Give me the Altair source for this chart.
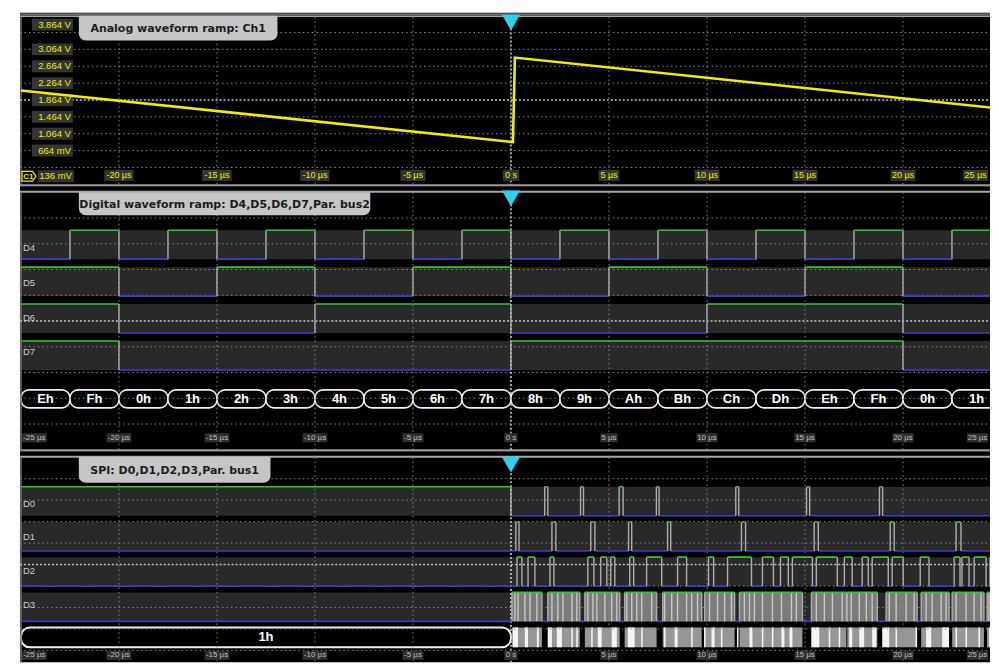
import altair as alt
import pandas as pd

# ======================= DATA =======================
# shared time axis (µs)
tick_t = [-20, -15, -10, -5, 0, 5, 10, 15, 20]
tick_lbl = ["-20 µs", "-15 µs", "-10 µs", "-5 µs", "0 s", "5 µs", "10 µs", "15 µs", "20 µs"]
first_lbl = "-25 µs"
last_lbl = "25 µs"
trigger_t = [0]

# panel 1 - analog ramp (Ch1)
ana_t = [-25.0, 0.1, 0.2, 25.0]
ana_v = [2.09, 0.865, 2.87, 1.66]
volt_grid = [3.464, 3.064, 2.664, 2.264, 1.464, 1.064, 0.664, 0.264]
volt_center = [1.864]
volt_lbl_v = [3.064, 2.664, 2.264, 1.864, 1.464, 1.064, 0.664]
volt_lbl = ["3.064 V", "2.664 V", "2.264 V", "1.864 V", "1.464 V", "1.064 V", "664 mV"]
volt_top_v, volt_top_lbl = [3.864], ["3.864 V"]
volt_bot_v, volt_bot_lbl = [-0.136], ["136 mV"]

# panel 2 - parallel bus 2 (D4..D7), one word per 2.5 µs
slot_t0 = [-25, -22.5, -20, -17.5, -15, -12.5, -10, -7.5, -5, -2.5,
           0, 2.5, 5, 7.5, 10, 12.5, 15, 17.5, 20, 22.5]
slot_t1 = [-22.5, -20, -17.5, -15, -12.5, -10, -7.5, -5, -2.5, 0,
           2.5, 5, 7.5, 10, 12.5, 15, 17.5, 20, 22.5, 25]
bus2_word = ["Eh", "Fh", "0h", "1h", "2h", "3h", "4h", "5h", "6h", "7h",
             "8h", "9h", "Ah", "Bh", "Ch", "Dh", "Eh", "Fh", "0h", "1h"]
d4_lvl = [0, 1, 0, 1, 0, 1, 0, 1, 0, 1, 0, 1, 0, 1, 0, 1, 0, 1, 0, 1]
d5_lvl = [1, 1, 0, 0, 1, 1, 0, 0, 1, 1, 0, 0, 1, 1, 0, 0, 1, 1, 0, 0]
d6_lvl = [1, 1, 0, 0, 0, 0, 1, 1, 1, 1, 0, 0, 0, 0, 1, 1, 1, 1, 0, 0]
d7_lvl = [1, 1, 0, 0, 0, 0, 0, 0, 0, 0, 1, 1, 1, 1, 1, 1, 1, 1, 0, 0]

# panel 3 - SPI on D0..D3 (high intervals, µs)
d0_hi_t0 = [-25.0, 1.72, 3.55, 5.52, 7.42, 11.47, 15.08, 18.80]
d0_hi_t1 = [0.0, 1.88, 3.70, 5.72, 7.56, 11.62, 15.24, 18.96]
d1_hi_t0 = [0.25, 2.09, 4.07, 6.00, 7.99, 11.76, 15.47, 19.35, 22.71]
d1_hi_t1 = [0.41, 2.29, 4.28, 6.16, 8.15, 11.97, 15.68, 19.55, 22.96]
d2_hi_t0 = [0.31, 0.87, 1.99, 3.92, 4.58, 5.09, 6.06, 6.92, 8.50, 10.08, 11.05, 12.83,
            13.75, 14.36, 15.58, 17.01, 17.92, 18.43, 19.45, 20.88, 22.61, 23.01, 23.63, 24.44]
d2_hi_t1 = [0.56, 1.22, 2.19, 4.23, 4.89, 5.30, 6.26, 7.69, 8.96, 10.34, 12.27, 13.39,
            14.15, 15.38, 16.65, 17.41, 18.23, 19.25, 20.01, 21.33, 22.91, 23.37, 24.24, 24.64]
d3_blk_t0 = [0.05, 1.88, 3.77, 5.80, 7.74, 9.88, 11.66, 15.33, 17.16, 19.14, 20.93, 22.51, 24.29]
d3_blk_t1 = [1.58, 3.51, 5.55, 7.43, 9.73, 11.41, 14.87, 17.11, 18.69, 20.72, 22.35, 24.13, 24.80]
d3_toggle_t = [0.20, 0.36, 0.71, 0.97, 1.32, 2.09, 2.39, 2.65, 3.11, 3.36, 3.92, 4.18, 4.38, 4.79,
               5.14, 5.40, 5.91, 6.16, 6.42, 6.67, 7.18, 7.84, 8.20, 8.50, 8.96, 9.22, 9.52, 10.13,
               10.54, 10.90, 11.25, 11.91, 12.17, 12.42, 12.83, 13.34, 13.80, 14.31, 14.56, 15.58,
               15.99, 16.40, 16.90, 17.36, 17.77, 18.13, 18.43, 19.30, 19.65, 20.16, 20.57, 21.18,
               21.49, 21.95, 22.20, 22.71, 23.22, 23.63, 23.98, 24.39, 24.75]
bus1_first_word = "1h"
bus1_first_t0, bus1_first_t1 = -25.0, 0.0
bus1_hi_t0 = [0.10, 0.71, 1.32, 1.88, 2.34, 3.08, 3.33, 4.09, 4.43, 5.14, 5.96, 6.64, 7.81, 8.35,
              9.19, 9.85, 10.23, 10.71, 11.53, 12.17, 12.80, 13.31, 13.80, 14.21, 15.33, 16.21,
              16.72, 17.26, 17.77, 18.43, 18.94, 19.62, 20.64, 21.18, 22.00, 22.68, 23.19, 23.85, 24.39]
bus1_hi_t1 = [0.36, 0.87, 1.42, 2.09, 2.60, 3.16, 3.41, 4.17, 4.63, 5.40, 6.31, 6.72, 7.89, 8.50,
              9.27, 9.93, 10.39, 10.79, 11.61, 12.32, 12.88, 13.39, 13.95, 14.36, 15.73, 16.29,
              16.80, 17.41, 18.02, 18.64, 19.30, 19.70, 20.72, 21.44, 22.35, 22.76, 23.27, 23.93, 24.75]

# ======================= STYLE / LAYOUT =======================
W = 972
H1, H2, H3 = 174, 266, 211
XS = alt.Scale(domain=[-25.05, 24.44], nice=False, zero=False)
VS = alt.Scale(domain=[-0.183, 3.935], nice=False, zero=False)
S2 = alt.Scale(domain=["D4", "D5", "D6", "D7"], range=[44, 184], paddingInner=0.216, paddingOuter=0)
S3 = alt.Scale(domain=["D0", "D1", "D2", "D3"], range=[35, 170], paddingInner=0.176, paddingOuter=0)
DS2 = alt.Scale(domain=[0, 10], range=[6, 264], nice=False, zero=False)
DS3 = alt.Scale(domain=[0, 10], range=[5.5, 220.5], nice=False, zero=False)

GREEN = "#36c236"
BLUE = "#3c3cd2"
EDGE = "#adadad"
BAND = "#292929"
GRID = "#8a8a8a"
YEL = "#f2ee00"
CYAN = "#29d3f0"
TAB = "#c6c6c6"
FONT = "Liberation Sans"
one = pd.DataFrame({"k": [0]})


def X(f):
    return alt.X(f, type="quantitative", scale=XS, axis=None)


def hrule(y, color, w, dash=None):
    kw = dict(color=color, strokeWidth=w)
    if dash:
        kw["strokeDash"] = dash
    return alt.Chart(one).mark_rule(**kw).encode(x=alt.value(0), x2=alt.value(W), y=alt.value(y))


def vgrid(top, bottom):
    df = pd.DataFrame({"t": [t for t in tick_t if t != 0]})
    g = alt.Chart(df).mark_rule(color=GRID, strokeWidth=1, strokeDash=[1.5, 3]).encode(
        x=X("t:Q"), y=alt.value(top), y2=alt.value(bottom))
    z = alt.Chart(pd.DataFrame({"t": trigger_t})).mark_rule(
        color="#d6d6d6", strokeWidth=1.5, strokeDash=[2, 2]).encode(
        x=X("t:Q"), y=alt.value(top), y2=alt.value(bottom))
    left = alt.Chart(one).mark_rule(color="#767676", strokeWidth=1.5).encode(
        x=alt.value(1), y=alt.value(top), y2=alt.value(bottom))
    return [g, z, left]


def hgrid(scale):
    df = pd.DataFrame({"d": [1, 2, 3, 4, 6, 7, 8, 9]})
    g = alt.Chart(df).mark_rule(color=GRID, strokeWidth=1, strokeDash=[1.5, 3], clip=True).encode(
        y=alt.Y("d:Q", scale=scale, axis=None), x=alt.value(0), x2=alt.value(W))
    c = alt.Chart(pd.DataFrame({"d": [5]})).mark_rule(
        color="#c4c4c4", strokeWidth=1.5, strokeDash=[2, 2]).encode(
        y=alt.Y("d:Q", scale=scale, axis=None), x=alt.value(0), x2=alt.value(W))
    return [g, c]


def box_path(bw, bh):
    h = bh / bw
    return f"M-1,{-h:.4f}L1,{-h:.4f}L1,{h:.4f}L-1,{h:.4f}Z"


def time_labels(y, fs, txt_color, box_color, bh, cw, pad, with_first):
    df = pd.DataFrame({"t": tick_t, "lbl": tick_lbl})
    df["bw"] = df["lbl"].str.len() * cw + pad
    df["sz"] = df["bw"] ** 2
    df["shp"] = [box_path(b, bh) for b in df["bw"]]
    box = alt.Chart(df).mark_point(filled=True, opacity=1, color=box_color, strokeWidth=0).encode(
        x=X("t:Q"), y=alt.value(y),
        size=alt.Size("sz:Q", scale=None, legend=None),
        shape=alt.Shape("shp:N", scale=None, legend=None))
    txt = alt.Chart(df).mark_text(color=txt_color, fontSize=fs, font=FONT, baseline="middle").encode(
        x=X("t:Q"), y=alt.value(y), text="lbl:N")
    layers = [box, txt]
    ends = [(last_lbl, "right")]
    if with_first:
        ends.append((first_lbl, "left"))
    for lbl, side in ends:
        bw = len(lbl) * cw + pad
        cx = bw / 2 + 2 if side == "left" else W - bw / 2 - 2
        d = pd.DataFrame({"lbl": [lbl]})
        layers.append(alt.Chart(d).mark_point(
            filled=True, opacity=1, color=box_color, strokeWidth=0,
            shape=box_path(bw, bh), size=bw ** 2).encode(x=alt.value(cx), y=alt.value(y)))
        layers.append(alt.Chart(d).mark_text(
            color=txt_color, fontSize=fs, font=FONT, baseline="middle").encode(
            x=alt.value(cx), y=alt.value(y), text="lbl:N"))
    return layers


def tab(x0, x1, y0, y1, text):
    r = alt.Chart(one).mark_rect(color=TAB, cornerRadiusBottomLeft=7, cornerRadiusBottomRight=7).encode(
        x=alt.value(x0), x2=alt.value(x1), y=alt.value(y0), y2=alt.value(y1))
    t = alt.Chart(pd.DataFrame({"s": [text]})).mark_text(
        font="DejaVu Sans", fontWeight="bold", fontSize=11, color="#1c1c1c", baseline="middle").encode(
        x=alt.value((x0 + x1) / 2), y=alt.value((y0 + y1) / 2 + 1), text="s:N")
    return [r, t]


def trigger(y):
    return alt.Chart(pd.DataFrame({"t": trigger_t})).mark_point(
        shape="triangle-down", filled=True, opacity=1, color=CYAN, size=330, strokeWidth=0).encode(
        x=X("t:Q"), y=alt.value(y))


def runs(t0s, t1s, lv, want):
    segs = []
    for a, b, l in zip(t0s, t1s, lv):
        if l != want:
            continue
        if segs and abs(segs[-1][1] - a) < 1e-9:
            segs[-1][1] = b
        else:
            segs.append([a, b])
    return segs


def complement(t0s, t1s, lo=-25.0, hi=25.0):
    segs, cur = [], lo
    for a, b in sorted(zip(t0s, t1s)):
        if a > cur:
            segs.append((cur, a))
        cur = max(cur, b)
    if cur < hi:
        segs.append((cur, hi))
    return segs


def trace_layers(hi, lo, edges, scale):
    hi_df = pd.DataFrame(hi, columns=["ch", "t0", "t1"])
    lo_df = pd.DataFrame(lo, columns=["ch", "t0", "t1"])
    ed_df = pd.DataFrame(edges, columns=["ch", "t"])
    low = alt.Chart(lo_df).mark_rule(color=BLUE, strokeWidth=1.6, clip=True).encode(
        x=X("t0:Q"), x2="t1:Q", y=alt.Y("ch:N", scale=scale, axis=None, bandPosition=1))
    high = alt.Chart(hi_df).mark_rule(color=GREEN, strokeWidth=1.6, clip=True).encode(
        x=X("t0:Q"), x2="t1:Q", y=alt.Y("ch:N", scale=scale, axis=None, bandPosition=0))
    edge = alt.Chart(ed_df).mark_tick(orient="vertical", size=29, thickness=1.4, color=EDGE, opacity=1,
                                      clip=True).encode(
        x=X("t:Q"), y=alt.Y("ch:N", scale=scale, axis=None))
    return [low, edge, high]


def band_layers(chs, scale):
    df = pd.DataFrame({"ch": chs})
    bg = alt.Chart(df).mark_rect(color=BAND).encode(
        x=alt.value(0), x2=alt.value(W), y=alt.Y("ch:N", scale=scale, axis=None))
    lbl = alt.Chart(df).mark_text(align="left", baseline="middle", color="#cdcdcd", fontSize=9.5,
                                  font=FONT).encode(
        x=alt.value(3), y=alt.Y("ch:N", scale=scale, axis=None, bandPosition=0.5), text="ch:N")
    return bg, lbl


# ======================= PANEL 1 =======================
ana_df = pd.DataFrame({"t": ana_t, "v": ana_v})
vgrid_df = pd.DataFrame({"v": volt_grid})
vc_df = pd.DataFrame({"v": volt_center})

p1 = [hrule(1.5, "#6a6a6a", 2), hrule(3.5, "#a6a6a6", 1.5)]
p1 += vgrid(4, H1)
p1.append(alt.Chart(vgrid_df).mark_rule(color=GRID, strokeWidth=1, strokeDash=[1.5, 3]).encode(
    y=alt.Y("v:Q", scale=VS, axis=None), x=alt.value(0), x2=alt.value(W)))
p1.append(alt.Chart(vc_df).mark_rule(color="#c4c4c4", strokeWidth=1.5, strokeDash=[2, 2]).encode(
    y=alt.Y("v:Q", scale=VS, axis=None), x=alt.value(0), x2=alt.value(W)))
p1.append(hrule(173, "#9a9a9a", 2))


def volt_labels(vals, lbls, yoff, cx, bw):
    d = pd.DataFrame({"v": vals, "lbl": lbls})
    b = alt.Chart(d).mark_point(filled=True, opacity=1, color="#353535", strokeWidth=0,
                                shape=box_path(bw, 12), size=bw ** 2, yOffset=yoff).encode(
        x=alt.value(cx), y=alt.Y("v:Q", scale=VS, axis=None))
    t = alt.Chart(d).mark_text(align="right", baseline="middle", color=YEL, fontSize=9.5,
                               font=FONT, yOffset=yoff).encode(
        x=alt.value(cx + bw / 2 - 2), y=alt.Y("v:Q", scale=VS, axis=None), text="lbl:N")
    return [b, t]


p1 += volt_labels(volt_lbl_v, volt_lbl, 0, 32.5, 41)
p1 += volt_labels(volt_top_v, volt_top_lbl, 9, 32.5, 41)
p1 += volt_labels(volt_bot_v, volt_bot_lbl, -8, 36, 36)
p1 += time_labels(163, 9, YEL, "#353535", 11, 4.4, 3, False)
# channel marker C1
p1.append(alt.Chart(one).mark_point(
    shape="M-1,-0.7L0.5,-0.7L1,0L0.5,0.7L-1,0.7Z", filled=False, color=YEL, strokeWidth=1.2,
    size=196, opacity=1).encode(x=alt.value(9), y=alt.value(164)))
p1.append(alt.Chart(pd.DataFrame({"s": ["C1"]})).mark_text(
    color=YEL, fontSize=8, fontWeight="bold", font=FONT, baseline="middle").encode(
    x=alt.value(8.5), y=alt.value(164.5), text="s:N"))
p1.append(alt.Chart(ana_df).mark_line(color=YEL, strokeWidth=2.6, clip=True).encode(
    x=X("t:Q"), y=alt.Y("v:Q", scale=VS, axis=None)))
p1 += tab(59, 258, 3, 28, "Analog waveform ramp: Ch1")
p1.append(trigger(10))

panel1 = alt.layer(*p1).resolve_scale(y="independent").properties(width=W, height=H1)

# ======================= PANEL 2 =======================
chs2 = ["D4", "D5", "D6", "D7"]
lv2 = [d4_lvl, d5_lvl, d6_lvl, d7_lvl]
hi2, lo2, ed2 = [], [], []
for ch, lv in zip(chs2, lv2):
    hi2 += [(ch, a, b) for a, b in runs(slot_t0, slot_t1, lv, 1)]
    lo2 += [(ch, a, b) for a, b in runs(slot_t0, slot_t1, lv, 0)]
    ed2 += [(ch, slot_t0[i]) for i in range(1, len(lv)) if lv[i] != lv[i - 1]]

bus2_df = pd.DataFrame({"t0": slot_t0, "t1": slot_t1, "w": bus2_word})
bus2_df["tm"] = (bus2_df["t0"] + bus2_df["t1"]) / 2

bg2, lbl2 = band_layers(chs2, S2)
p2 = [hrule(5.5, "#a6a6a6", 2), hrule(264.5, "#9a9a9a", 2), bg2]
p2.append(alt.Chart(bus2_df).mark_rect(fill="black", stroke="#f0f0f0", strokeWidth=1.6, cornerRadius=8,
                                       clip=True).encode(
    x=X("t0:Q"), x2="t1:Q", y=alt.value(204), y2=alt.value(222)))
p2 += vgrid(6, H2)
p2 += hgrid(DS2)
p2 += trace_layers(hi2, lo2, ed2, S2)
p2.append(alt.Chart(bus2_df).mark_text(color="white", fontSize=13, fontWeight="bold", font=FONT,
                                       baseline="middle", clip=True).encode(
    x=X("tm:Q"), y=alt.value(213.5), text="w:N"))
p2.append(lbl2)
p2 += time_labels(252, 8, "#bdbdbd", "#303030", 9, 3.8, 2, True)
p2 += tab(59, 351, 6, 29, "Digital waveform ramp: D4,D5,D6,D7,Par. bus2")
p2.append(trigger(12))

panel2 = alt.layer(*p2).resolve_scale(y="independent").properties(width=W, height=H2)

# ======================= PANEL 3 =======================
chs3 = ["D0", "D1", "D2", "D3"]
pulses = {
    "D0": (d0_hi_t0, d0_hi_t1),
    "D1": (d1_hi_t0, d1_hi_t1),
    "D2": (d2_hi_t0, d2_hi_t1),
    "D3": (d3_blk_t0, d3_blk_t1),
}
hi3, lo3, ed3 = [], [], []
for ch in chs3:
    a0, a1 = pulses[ch]
    hi3 += [(ch, a, b) for a, b in zip(a0, a1)]
    lo3 += [(ch, a, b) for a, b in complement(a0, a1)]
    ed3 += [(ch, t) for t in list(a0) + list(a1) if -25 < t < 25]

d3_blk_df = pd.DataFrame({"ch": "D3", "t0": d3_blk_t0, "t1": d3_blk_t1})
d3_tog_df = pd.DataFrame({"ch": "D3", "t": d3_toggle_t})
bus1_frame_df = pd.DataFrame({"t0": d3_blk_t0, "t1": d3_blk_t1})
bus1_hi_df = pd.DataFrame({"t0": bus1_hi_t0, "t1": bus1_hi_t1})
bus1_first_df = pd.DataFrame({"t0": [bus1_first_t0], "t1": [bus1_first_t1], "w": [bus1_first_word]})
bus1_first_df["tm"] = (bus1_first_df["t0"] + bus1_first_df["t1"]) / 2

BUS_Y0, BUS_Y1 = 176, 196
bg3, lbl3 = band_layers(chs3, S3)
p3 = [hrule(5, "#a6a6a6", 2), bg3]
p3.append(alt.Chart(d3_blk_df).mark_rect(color="#7b7b7b", clip=True).encode(
    x=X("t0:Q"), x2="t1:Q", y=alt.Y("ch:N", scale=S3, axis=None)))
p3.append(alt.Chart(bus1_first_df).mark_rect(fill="black", stroke="#f0f0f0", strokeWidth=2,
                                             cornerRadius=9, clip=True).encode(
    x=X("t0:Q"), x2="t1:Q", y=alt.value(BUS_Y0), y2=alt.value(BUS_Y1)))
p3.append(alt.Chart(bus1_frame_df).mark_rect(color="#979797", clip=True).encode(
    x=X("t0:Q"), x2="t1:Q", y=alt.value(BUS_Y0), y2=alt.value(BUS_Y1)))
p3.append(alt.Chart(bus1_hi_df).mark_rect(color="#f4f4f4", clip=True).encode(
    x=X("t0:Q"), x2="t1:Q", y=alt.value(BUS_Y0), y2=alt.value(BUS_Y1)))
p3 += vgrid(5.5, H3)
p3 += hgrid(DS3)
p3.append(alt.Chart(d3_tog_df).mark_tick(orient="vertical", size=29, thickness=1.4, color="#c8c8c8",
                                         opacity=1, clip=True).encode(
    x=X("t:Q"), y=alt.Y("ch:N", scale=S3, axis=None)))
p3 += trace_layers(hi3, lo3, ed3, S3)
p3.append(alt.Chart(bus1_first_df).mark_text(color="white", fontSize=13, fontWeight="bold", font=FONT,
                                             baseline="middle").encode(
    x=X("tm:Q"), y=alt.value((BUS_Y0 + BUS_Y1) / 2), text="w:N"))
p3.append(lbl3)
p3 += time_labels(204, 8, "#bdbdbd", "#303030", 9, 3.8, 2, True)
p3 += tab(59, 251, 5, 31, "SPI: D0,D1,D2,D3,Par. bus1")
p3.append(trigger(13))

panel3 = alt.layer(*p3).resolve_scale(y="independent").properties(width=W, height=H3)

chart = alt.vconcat(panel1, panel2, panel3, spacing=0, bounds="flush").properties(
    padding={"left": 11, "top": 4, "right": 0, "bottom": 0},
    background="white",
).configure_view(fill="black", stroke=None)

chart.save("out.html", embed_options={"renderer": "svg", "actions": False})
